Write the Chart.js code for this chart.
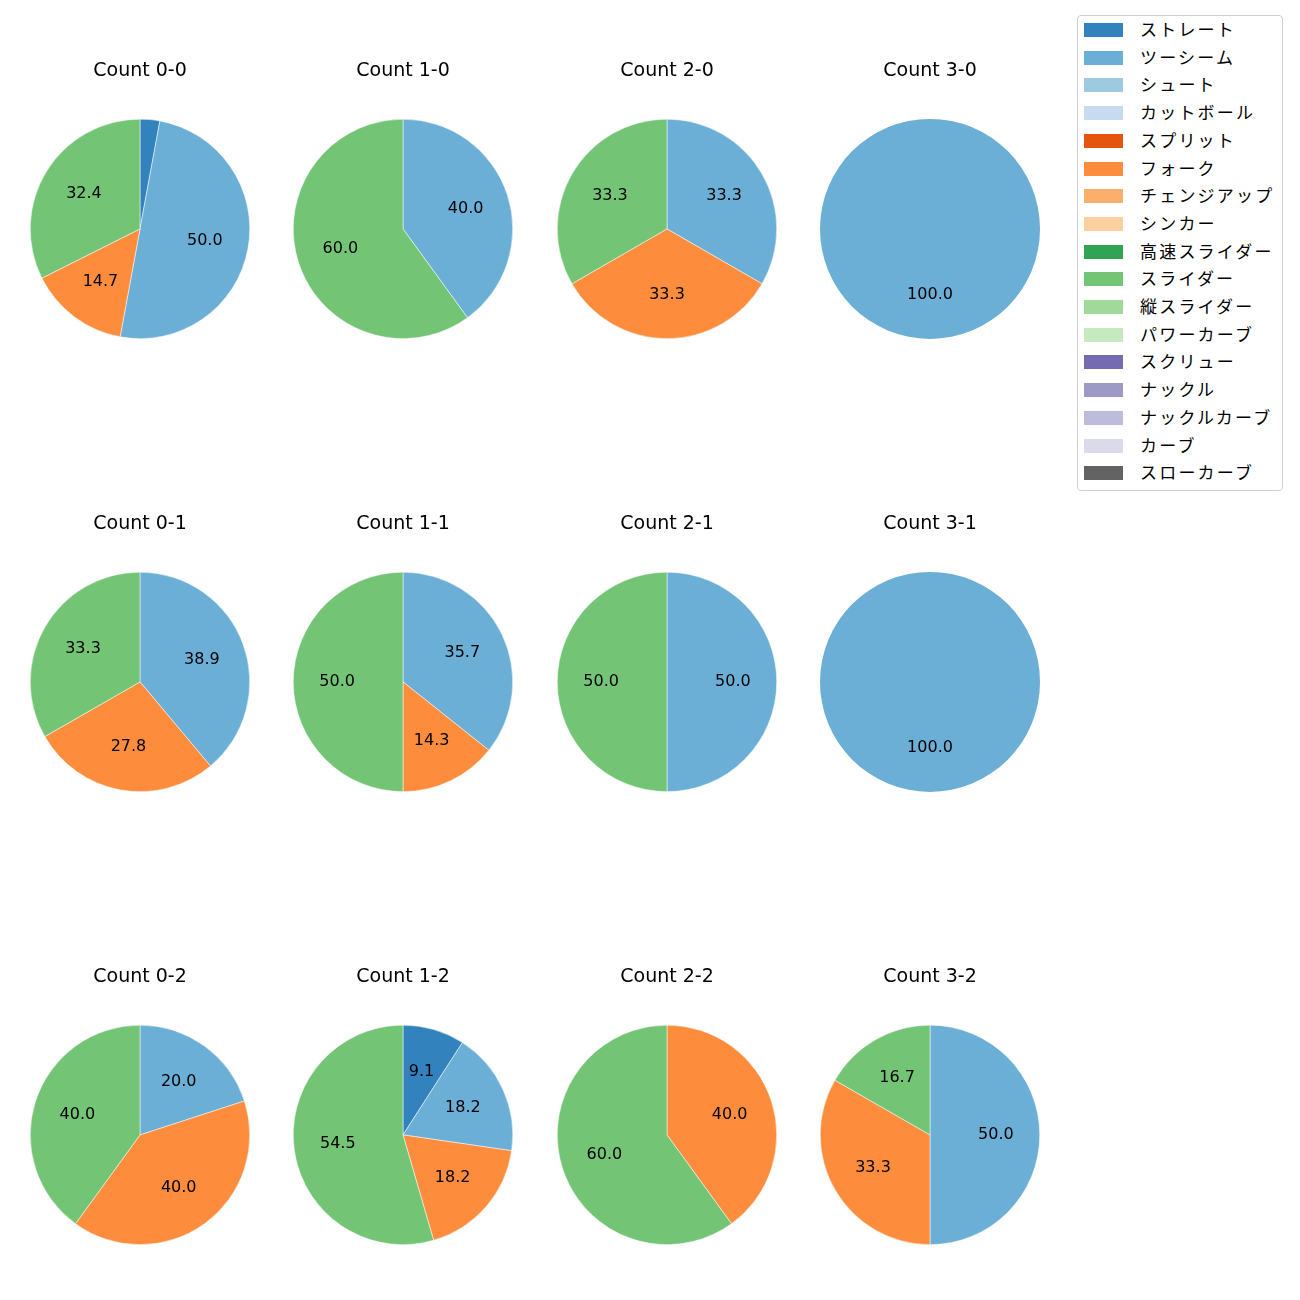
<!DOCTYPE html>
<html>
<head>
<meta charset="utf-8">
<script src="https://cdn.jsdelivr.net/npm/chart.js@4"></script>
<style>
  body { margin: 0; background: #fff; font-family: 'Noto Sans CJK JP', 'Noto Sans', sans-serif; }
  #page { position: relative; width: 1300px; height: 1300px; }
  .cell { position: absolute; width: 240px; height: 300px; }
  #legend {
    position: absolute; left: 1077px; top: 15px; width: 204px; height: 474px;
    border: 1px solid #d0d0d0; border-radius: 4px; background: #fff;
  }
  .item { position: absolute; left: 0; height: 20px; }
  .item .sw { position: absolute; left: 6px; top: 3px; width: 39px; height: 14px; }
  .item .tx { position: absolute; left: 62px; top: -3px; font-size: 17px; letter-spacing: 2.2px; color: #000; white-space: nowrap; line-height: 24px; }
</style>
</head>
<body>
<div id="page">
  <div id="legend"></div>
</div>
<script>
(function () {
    'use strict';

    // -------- dados --------
    const PITCH_TYPES = ['ストレート', 'ツーシーム', 'シュート', 'カットボール', 'スプリット', 'フォーク',
        'チェンジアップ', 'シンカー', '高速スライダー', 'スライダー', '縦スライダー', 'パワーカーブ',
        'スクリュー', 'ナックル', 'ナックルカーブ', 'カーブ', 'スローカーブ'];
    const PITCH_COLORS = ['#3182bd', '#6baed6', '#9ecae1', '#c6dbef', '#e6550d', '#fd8d3c',
        '#fdae6b', '#fdd0a2', '#31a354', '#74c476', '#a1d99b', '#c7e9c0',
        '#756bb1', '#9e9ac8', '#bcbddc', '#dadaeb', '#636363'];

    const COUNTS = ['0-0', '1-0', '2-0', '3-0', '0-1', '1-1', '2-1', '3-1', '0-2', '1-2', '2-2', '3-2'];

    // % por tipo de arremesso, na ordem de COUNTS
    const straight = [2.9, 0, 0, 0, 0, 0, 0, 0, 0, 9.1, 0, 0];
    const twoSeam  = [50.0, 40.0, 33.3, 100.0, 38.9, 35.7, 50.0, 100.0, 20.0, 18.2, 0, 50.0];
    const fork     = [14.7, 0, 33.3, 0, 27.8, 14.3, 0, 0, 40.0, 18.2, 40.0, 33.3];
    const slider   = [32.4, 60.0, 33.3, 0, 33.3, 50.0, 50.0, 0, 40.0, 54.5, 60.0, 16.7];

    const seriesByType = {
        'ストレート': straight,
        'ツーシーム': twoSeam,
        'フォーク': fork,
        'スライダー': slider
    };

    // -------- layout --------
    const COL_X = [140, 403, 667, 930];
    const ROW_Y = [229, 682, 1135];
    const FONT = "'DejaVu Sans', 'Noto Sans CJK JP', sans-serif";

    // rótulos de % dentro das fatias (pctdistance 0.6)
    const pctLabels = {
        id: 'pctLabels',
        afterDatasetsDraw(chart) {
            const ctx = chart.ctx;
            const meta = chart.getDatasetMeta(0);
            const data = chart.data.datasets[0].data;
            ctx.save();
            ctx.font = `16px ${FONT}`;
            ctx.fillStyle = '#000';
            ctx.textAlign = 'center';
            ctx.textBaseline = 'middle';
            meta.data.forEach((arc, i) => {
                const v = data[i];
                if (!v || v < 5) return;
                const mid = (arc.startAngle + arc.endAngle) / 2;
                const r = arc.outerRadius * 0.6;
                ctx.fillText(v.toFixed(1), arc.x + Math.cos(mid) * r, arc.y + Math.sin(mid) * r);
            });
            ctx.restore();
        }
    };

    const page = document.getElementById('page');

    COUNTS.forEach((c, i) => {
        const cx = COL_X[i % 4];
        const cy = ROW_Y[Math.floor(i / 4)];
        const div = document.createElement('div');
        div.className = 'cell';
        div.style.left = (cx - 120) + 'px';
        div.style.top = (cy - 179) + 'px';
        const canvas = document.createElement('canvas');
        div.appendChild(canvas);
        page.appendChild(div);

        const values = PITCH_TYPES.map(t => (seriesByType[t] ? seriesByType[t][i] : 0));
        const nonZero = values.filter(v => v > 0).length;

        new Chart(canvas.getContext('2d'), {
            type: 'pie',
            data: {
                labels: PITCH_TYPES,
                datasets: [{
                    data: values,
                    backgroundColor: PITCH_COLORS,
                    borderWidth: nonZero > 1 ? 0.5 : 0, // sem linha branca na fatia única
                    borderColor: '#ffffff'
                }]
            },
            options: {
                responsive: true,
                maintainAspectRatio: false,
                animation: false,
                layout: { padding: { left: 10, right: 10, top: 0, bottom: 11 } },
                plugins: {
                    legend: { display: false },
                    tooltip: { enabled: false },
                    title: {
                        display: true,
                        text: `Count ${c}`,
                        color: '#000',
                        font: { family: FONT, size: 19, weight: 'normal', lineHeight: 1.2 },
                        padding: { top: 10, bottom: 36 }
                    }
                }
            },
            plugins: [pctLabels]
        });
    });

    // -------- legenda --------
    const legend = document.getElementById('legend');
    PITCH_TYPES.forEach((t, i) => {
        const row = document.createElement('div');
        row.className = 'item';
        row.style.top = (4 + i * 27.7) + 'px';
        row.style.width = '200px';
        row.innerHTML = `<div class="sw" style="background:${PITCH_COLORS[i]}"></div><div class="tx">${t}</div>`;
        legend.appendChild(row);
    });
})();
</script>
</body>
</html>
